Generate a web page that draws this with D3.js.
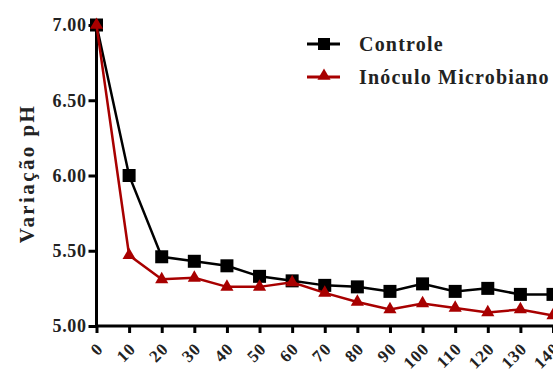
<!DOCTYPE html>
<html>
<head>
<meta charset="utf-8">
<script src="https://cdn.jsdelivr.net/npm/d3@7"></script>
<style>
  body { margin: 0; background: #fff; }
</style>
</head>
<body>
<script>
const width = 553;
const height = 373;

// days
const tempos = [0, 10, 20, 30, 40, 50, 60, 70, 80, 90, 100, 110, 120, 130, 140];
const controle = [7.00, 6.00, 5.46, 5.43, 5.40, 5.33, 5.30, 5.27, 5.26, 5.23, 5.28, 5.23, 5.25, 5.21, 5.21];
const inoculo = [7.00, 5.47, 5.31, 5.32, 5.26, 5.26, 5.29, 5.22, 5.16, 5.11, 5.15, 5.12, 5.09, 5.11, 5.07];
const yTicks = [5.00, 5.50, 6.00, 6.50, 7.00];
const seriesNames = ["Controle", "Inóculo Microbiano"];

const red = "#a80000";
const fontFam = "'Liberation Serif'";

const svg = d3.select("body").append("svg")
    .attr("width", width)
    .attr("height", height);

const x = d3.scaleLinear().domain([0, 140]).range([96.5, 553]);
const y = d3.scaleLinear().domain([5, 7]).range([326, 25]);

// y axis
const yaxis = d3.axisLeft(y).tickValues(yTicks).tickFormat(d3.format(".2f")).tickSize(8).tickPadding(2);
const gy = svg.append("g").attr("transform", "translate(96.5,0)").call(yaxis);
gy.select(".domain").attr("stroke-width", 3).attr("d", `M0,${y(5)}V${y(7)}`);
gy.selectAll(".tick line").attr("stroke-width", 3);
gy.selectAll(".tick text")
    .style("font-family", fontFam)
    .style("font-weight", "bold")
    .style("font-size", "18px")
    .style("letter-spacing", "0.6px")
    .attr("fill", "#222");

// x axis
const xaxis = d3.axisBottom(x).tickValues(tempos).tickSize(7).tickFormat(d3.format("d"));
const gx = svg.append("g").attr("transform", `translate(0,${y(5)})`).call(xaxis);
gx.select(".domain").attr("stroke-width", 3).attr("d", `M${x(0) - 1.5},0H${width + 10}`);
gx.selectAll(".tick line").attr("stroke-width", 3);
gx.selectAll(".tick text")
    .style("font-family", fontFam)
    .style("font-weight", "bold")
    .style("font-size", "17px")
    .style("letter-spacing", "0.8px")
    .attr("fill", "#222")
    .attr("text-anchor", "end")
    .attr("dy", null)
    .attr("y", 0)
    .attr("transform", "translate(7,24) rotate(-45)");

// y label
svg.append("text")
    .attr("transform", `translate(34,${(y(5) + y(7)) / 2 - 2}) rotate(-90)`)
    .attr("text-anchor", "middle")
    .style("font-family", fontFam)
    .style("font-weight", "bold")
    .style("font-size", "21px")
    .style("letter-spacing", "2.4px")
    .attr("fill", "#222")
    .text("Variação pH");

const line = d3.line().x((d, i) => x(tempos[i])).y(d => y(d));

// controle
svg.append("path").datum(controle)
    .attr("fill", "none").attr("stroke", "#000").attr("stroke-width", 2.5)
    .attr("d", line);
svg.selectAll(".sq").data(controle).enter().append("rect")
    .attr("class", "sq")
    .attr("x", (d, i) => x(tempos[i]) - 6.5)
    .attr("y", d => y(d) - 6.5)
    .attr("width", 13).attr("height", 13)
    .attr("fill", "#000");

// inoculo
const tri = d3.symbol().type(d3.symbolTriangle).size(75);
svg.append("path").datum(inoculo)
    .attr("fill", "none").attr("stroke", red).attr("stroke-width", 2.5)
    .attr("d", line);
svg.selectAll(".tri").data(inoculo).enter().append("path")
    .attr("class", "tri")
    .attr("d", tri)
    .attr("transform", (d, i) => `translate(${x(tempos[i])},${y(d)})`)
    .attr("fill", red);

// legend
const legend = svg.append("g");
const leg = [
  { name: seriesNames[0], color: "#000", sym: "sq", y: 44 },
  { name: seriesNames[1], color: red, sym: "tri", y: 77 }
];
leg.forEach(l => {
  legend.append("line")
      .attr("x1", 307).attr("x2", 340).attr("y1", l.y).attr("y2", l.y)
      .attr("stroke", l.color).attr("stroke-width", 3);
  if (l.sym === "sq") {
    legend.append("rect").attr("x", 318).attr("y", l.y - 6).attr("width", 12).attr("height", 12).attr("fill", l.color);
  } else {
    legend.append("path").attr("d", tri).attr("transform", `translate(324,${l.y - 1})`).attr("fill", l.color);
  }
  legend.append("text")
      .attr("x", 359).attr("y", l.y + 7)
      .style("font-family", fontFam)
      .style("font-weight", "bold")
      .style("font-size", "20px")
      .style("letter-spacing", "1.2px")
      .attr("fill", "#222")
      .text(l.name);
});
</script>
</body>
</html>
